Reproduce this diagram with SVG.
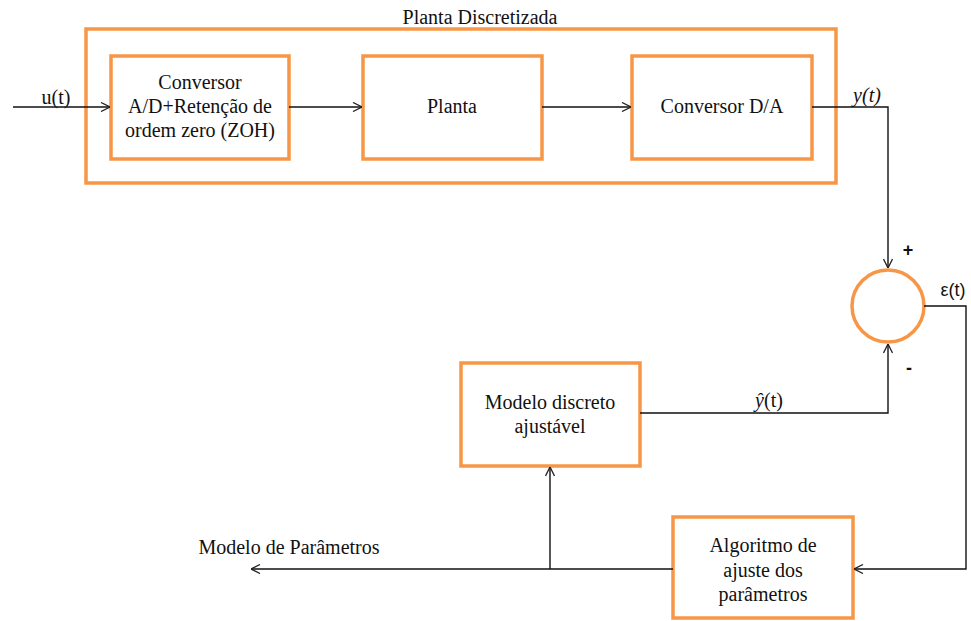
<svg xmlns="http://www.w3.org/2000/svg" width="971" height="621" viewBox="0 0 971 621">
<defs>
<marker id="arr" viewBox="0 0 10 10" refX="10" refY="5" markerWidth="10" markerHeight="10" markerUnits="userSpaceOnUse" orient="auto">
<path d="M1,0.5 L10,5 L1,9.5" fill="none" stroke="#222" stroke-width="1.3"/>
</marker>
<style>
.box{fill:#fff;stroke:#F79646;stroke-width:3.5}
.sum{fill:#fff;stroke:#F79646;stroke-width:3.5}
.wire{fill:none;stroke:#111;stroke-width:1.4}
.t{font-family:"Liberation Serif","Times New Roman",serif;font-size:20px;fill:#111;text-anchor:middle}
.s{font-family:"Liberation Sans",Arial,sans-serif;font-size:18px;fill:#111;text-anchor:middle}
</style>
</defs>
<rect width="971" height="621" fill="#fff"/>
<g id="planta-discretizada">
<rect class="box" x="86" y="29" width="750" height="154"/>
<text class="t" x="480" y="24">Planta Discretizada</text>
</g>
<g id="conversor-ad">
<rect class="box" x="111" y="56" width="178" height="103"/>
<text class="t" x="200" y="89">Conversor</text>
<text class="t" x="200" y="113">A/D+Retenção de</text>
<text class="t" x="200" y="137">ordem zero (ZOH)</text>
</g>
<g id="planta">
<rect class="box" x="363" y="56" width="179" height="103"/>
<text class="t" x="452" y="113">Planta</text>
</g>
<g id="conversor-da">
<rect class="box" x="632" y="56" width="180" height="103"/>
<text class="t" x="722" y="113">Conversor D/A</text>
</g>
<g id="somador">
<circle class="sum" cx="888" cy="306" r="36"/>
</g>
<g id="modelo-discreto">
<rect class="box" x="461" y="363" width="179" height="103"/>
<text class="t" x="550" y="409">Modelo discreto</text>
<text class="t" x="550" y="433">ajustável</text>
</g>
<g id="algoritmo">
<rect class="box" x="673" y="517" width="180" height="101"/>
<text class="t" x="763" y="552">Algoritmo  de</text>
<text class="t" x="763" y="577">ajuste  dos</text>
<text class="t" x="763" y="601">parâmetros</text>
</g>
<g id="connectors">
<path class="wire" d="M13,107 H110" marker-end="url(#arr)"/>
<path class="wire" d="M289,107 H362" marker-end="url(#arr)"/>
<path class="wire" d="M542,107 H631" marker-end="url(#arr)"/>
<path class="wire" d="M812,107 H888 V268" marker-end="url(#arr)"/>
<path class="wire" d="M640,413 H888 V344" marker-end="url(#arr)"/>
<path class="wire" d="M924,306 H966 V569 H854" marker-end="url(#arr)"/>
<path class="wire" d="M673,569 H251" marker-end="url(#arr)"/>
<path class="wire" d="M550,569 V467" marker-end="url(#arr)"/>
</g>
<g id="labels">
<text class="t" x="56" y="104">u(t)</text>
<text class="t" x="867" y="102" font-style="italic">y(t)</text>
<text class="t" x="769" y="407"><tspan font-style="italic">ŷ</tspan>(t)</text>
<text class="t" x="289" y="554">Modelo de Parâmetros</text>
<text class="s" x="908" y="256" font-size="22" font-weight="bold">+</text>
<text class="s" x="909" y="374" font-weight="bold">-</text>
<text class="s" x="953" y="296">ε(t)</text>
</g>
</svg>
